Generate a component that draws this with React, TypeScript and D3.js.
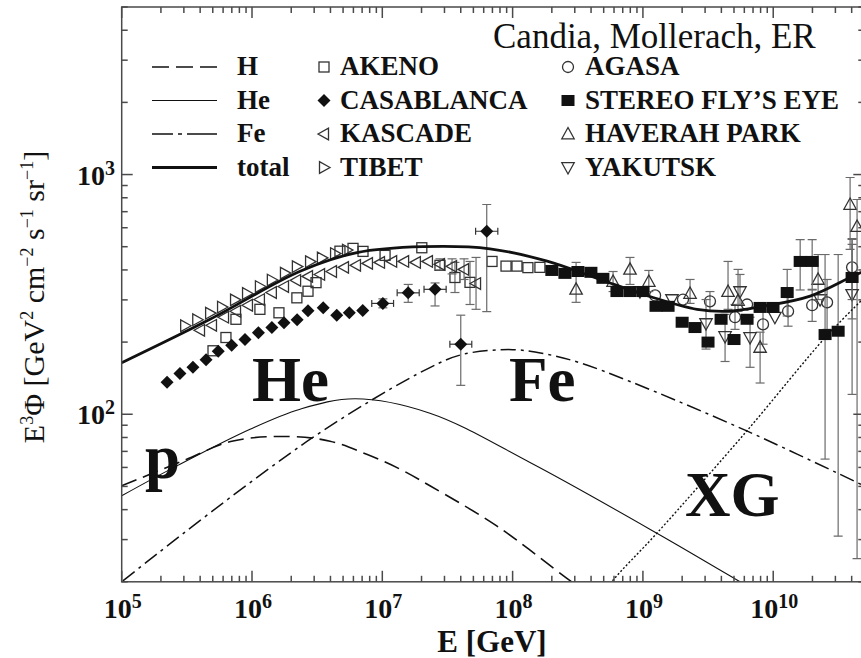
import React from 'react';
import * as d3 from 'd3';

// ---- axes ----
const energyDomain: [number, number] = [1e5, 5e10];
const fluxDomain: [number, number] = [20, 5000];
const xTickExponents = [5, 6, 7, 8, 9, 10];
const yTickExponents = [2, 3];

// ---- model components: [E (GeV), E^3 Phi] ----
const hydrogenCurve: [number, number][] = [
  [1e5, 50.3], [2.95e5, 63.9], [7.16e5, 77.4], [1.95e6, 80.7], [3.97e6, 77.2],
  [7.59e6, 68.1], [1.37e7, 59.0], [2.32e7, 50.3], [7.55e7, 34.2], [2.84e8, 20.0], [6.0e8, 15.0],
];
const heliumCurve: [number, number][] = [
  [1e5, 45.7], [2.65e5, 60.9], [9.66e5, 86.6], [2.34e6, 105], [6.17e6, 116],
  [2.32e7, 101], [1.36e8, 62.9], [1.28e9, 31.9], [5.56e9, 20.0], [1.5e10, 14.5],
];
const ironCurve: [number, number][] = [
  [7e4, 17.0], [1e5, 20.0], [2.93e6, 80.0], [2.32e7, 156.6], [4.19e7, 178], [1.0e8, 186],
  [1.83e8, 178], [3.29e8, 164], [7.96e8, 137], [6.27e9, 85.2], [5.5e10, 49.0],
];
const extragalacticCurve: [number, number][] = [
  [3.5e8, 14.0], [5.75e8, 20.0], [1.28e9, 31.9], [6.27e9, 85.2], [2.57e10, 212], [5.5e10, 322],
];
const totalCurve: [number, number][] = [
  [1e5, 164], [4.76e5, 249], [2.34e6, 395], [6.38e6, 472], [2.05e7, 500], [6.70e7, 490],
  [1.84e8, 435], [4.68e8, 365], [1.13e9, 310], [2.60e9, 274], [4.66e9, 269], [8.35e9, 282],
  [1.92e10, 311], [4.09e10, 377], [5.5e10, 405],
];

// ---- measurements: [E, flux, fluxLow?, fluxHigh?, eLow?, eHigh?] ----
type Pt = [number, number, number?, number?, number?, number?];

const akeno: Pt[] = [
  [5.02e5, 184], [6.31e5, 209], [7.53e5, 249], [1.15e6, 274], [1.61e6, 265], [2.21e6, 306],
  [2.69e6, 326], [3.10e6, 354], [4.73e6, 479], [5.96e6, 492], [7.11e6, 478], [1.05e7, 460],
  [2.01e7, 495], [2.77e7, 418], [3.61e7, 372, 322, 430], [4.71e7, 355, 287, 434],
  [6.95e7, 434], [8.90e7, 415], [1.08e8, 415], [1.31e8, 409], [1.62e8, 410],
];
const casablanca: Pt[] = [
  [2.23e5, 136], [2.80e5, 148], [3.52e5, 157], [4.44e5, 169], [5.51e5, 183], [6.98e5, 194],
  [8.84e5, 205], [1.12e6, 219], [1.42e6, 230], [1.76e6, 241], [2.22e6, 248], [2.69e6, 270],
  [3.52e6, 278], [4.47e6, 259], [5.58e6, 265], [7.08e6, 271],
  [1.01e7, 290, 278, 303, 8.3e6, 1.22e7], [1.58e7, 321, 293, 348, 1.3e7, 1.92e7],
  [2.54e7, 332, 283, 353, 2.09e7, 3.09e7], [4.0e7, 196, 132, 259, 3.3e7, 4.86e7],
  [6.33e7, 580, 268, 750, 5.2e7, 7.7e7],
];
const kascade: Pt[] = [
  [3.99e5, 224], [4.93e5, 235], [6.10e5, 254], [7.54e5, 269], [9.31e5, 285], [1.15e6, 301],
  [1.42e6, 322], [1.76e6, 341], [2.18e6, 362], [2.69e6, 376], [3.33e6, 383], [4.11e6, 394],
  [5.08e6, 410], [6.28e6, 418], [7.76e6, 426], [9.60e6, 430], [1.19e7, 434], [1.47e7, 434],
  [1.81e7, 430], [2.24e7, 434], [2.77e7, 422, 400, 445], [3.43e7, 414, 385, 445],
  [4.24e7, 402, 365, 445], [5.24e7, 351, 274, 451],
];
const tibet: Pt[] = [
  [3.07e5, 234], [3.80e5, 248], [4.77e5, 264], [5.89e5, 280], [7.41e5, 300], [9.16e5, 319],
  [1.15e6, 341], [1.42e6, 363], [1.79e6, 388], [2.21e6, 413], [2.79e6, 433], [3.44e6, 449],
  [4.34e6, 468], [5.36e6, 484],
];
const agasa: Pt[] = [
  [1.24e9, 313], [2.03e9, 301], [3.27e9, 296, 269, 325], [5.09e9, 254, 226, 287], [6.30e9, 287],
  [8.35e9, 237, 196, 287], [1.30e10, 269, 233, 307], [1.99e10, 285, 244, 332],
  [2.59e10, 293, 226, 365], [4.03e10, 410, 301, 511],
];
const stereoFlysEye: Pt[] = [
  [2.00e8, 398], [2.52e8, 387], [3.17e8, 394], [3.99e8, 391], [4.93e8, 369], [6.32e8, 325],
  [7.96e8, 325], [1.00e9, 325], [1.26e9, 282], [1.56e9, 282], [2.00e9, 242], [2.51e9, 230],
  [3.16e9, 200], [3.98e9, 249], [5.00e9, 205], [6.30e9, 249], [7.93e9, 279], [9.96e9, 279],
  [1.28e10, 322, 257, 402], [1.61e10, 434, 330, 535], [1.99e10, 434, 330, 535],
  [2.50e10, 215, 65, 464], [3.15e10, 222, 31, 464], [4.03e10, 372, 250, 540],
];
const haverahPark: Pt[] = [
  [3.07e8, 332, 293, 430], [5.90e8, 358, 325, 394], [7.96e8, 402, 348, 451],
  [1.11e9, 358, 325, 398], [2.30e9, 319, 290, 365], [4.50e9, 325, 274, 434],
  [5.37e9, 298, 269, 402], [7.93e9, 190, 135, 220], [2.21e10, 365, 301, 464],
  [3.89e10, 750, 487, 972], [4.40e10, 607, 25, 787],
];
const yakutsk: Pt[] = [
  [9.49e8, 325], [1.67e9, 301], [3.05e9, 239, 187, 301], [4.27e9, 211, 166, 261],
  [5.56e9, 325, 287, 383], [6.64e9, 209, 157, 254], [1.03e10, 254], [2.29e10, 301],
  [4.03e10, 316, 121, 536],
];

type Sym = 'square' | 'diamond' | 'triLeft' | 'triRight' | 'circle' | 'filledSquare' | 'triUp' | 'triDown';

const datasets: { name: string; data: Pt[]; symbol: Sym }[] = [
  { name: 'AKENO', data: akeno, symbol: 'square' },
  { name: 'KASCADE', data: kascade, symbol: 'triLeft' },
  { name: 'TIBET', data: tibet, symbol: 'triRight' },
  { name: 'CASABLANCA', data: casablanca, symbol: 'diamond' },
  { name: 'AGASA', data: agasa, symbol: 'circle' },
  { name: 'HAVERAH PARK', data: haverahPark, symbol: 'triUp' },
  { name: 'YAKUTSK', data: yakutsk, symbol: 'triDown' },
  { name: 'STEREO FLY\u2019S EYE', data: stereoFlysEye, symbol: 'filledSquare' },
];

const legendModels = [
  { name: 'H', dash: '17,7', width: 1.6 },
  { name: 'He', dash: '', width: 1.1 },
  { name: 'Fe', dash: '21,5,4,5,30,5', width: 1.5 },
  { name: 'total', dash: '', width: 2.8 },
];
const legendCol2: { name: string; symbol: Sym }[] = [
  { name: 'AKENO', symbol: 'square' },
  { name: 'CASABLANCA', symbol: 'diamond' },
  { name: 'KASCADE', symbol: 'triLeft' },
  { name: 'TIBET', symbol: 'triRight' },
];
const legendCol3: { name: string; symbol: Sym }[] = [
  { name: 'AGASA', symbol: 'circle' },
  { name: 'STEREO FLY\u2019S EYE', symbol: 'filledSquare' },
  { name: 'HAVERAH PARK', symbol: 'triUp' },
  { name: 'YAKUTSK', symbol: 'triDown' },
];

const SERIF = '"Liberation Serif", "Times New Roman", Times, serif';
const INK = '#111';
const MARK = '#333';
const ERR = '#6a6a6a';

function Marker({ type, cx, cy }: { type: Sym; cx: number; cy: number }) {
  const sw = 1.3;
  switch (type) {
    case 'square':
      return <rect x={cx - 5} y={cy - 5} width={10} height={10} fill="none" stroke={MARK} strokeWidth={sw} />;
    case 'filledSquare':
      return <rect x={cx - 6.5} y={cy - 5.5} width={13} height={11} fill={INK} />;
    case 'diamond':
      return <path d={`M${cx},${cy - 6.5}L${cx + 6.5},${cy}L${cx},${cy + 6.5}L${cx - 6.5},${cy}Z`} fill={INK} />;
    case 'circle':
      return <circle cx={cx} cy={cy} r={5.5} fill="none" stroke={MARK} strokeWidth={sw} />;
    case 'triUp':
      return <path d={`M${cx},${cy - 6.5}L${cx + 6.2},${cy + 4.8}L${cx - 6.2},${cy + 4.8}Z`} fill="none" stroke={MARK} strokeWidth={sw} />;
    case 'triDown':
      return <path d={`M${cx},${cy + 6.5}L${cx + 6.2},${cy - 4.8}L${cx - 6.2},${cy - 4.8}Z`} fill="none" stroke={MARK} strokeWidth={sw} />;
    case 'triLeft':
      return <path d={`M${cx - 6},${cy}L${cx + 4.5},${cy - 5.8}L${cx + 4.5},${cy + 5.8}Z`} fill="none" stroke={MARK} strokeWidth={sw} />;
    case 'triRight':
      return <path d={`M${cx + 6},${cy}L${cx - 4.5},${cy - 5.8}L${cx - 4.5},${cy + 5.8}Z`} fill="none" stroke={MARK} strokeWidth={sw} />;
  }
  return null;
}

export default function App() {
  const W = 861;
  const H = 658;
  const x = d3.scaleLog().domain(energyDomain).range([121.7, 864.3]);
  const y = d3.scaleLog().domain(fluxDomain).range([581.8, 7]);
  const [x0, x1] = x.range();
  const [yb, yt] = y.range();

  const line = d3
    .line<[number, number]>()
    .x((d) => x(d[0]))
    .y((d) => y(d[1]))
    .curve(d3.curveCatmullRom.alpha(0.5));

  // minor/major ticks
  const xTicks: { v: number; major: boolean }[] = [];
  for (let e = 5; e <= 10; e++) {
    for (let m = 1; m <= 9; m++) {
      const v = m * Math.pow(10, e);
      if (v >= energyDomain[0] && v <= energyDomain[1]) xTicks.push({ v, major: m === 1 });
    }
  }
  const yTicks: { v: number; major: boolean }[] = [];
  for (let e = 1; e <= 3; e++) {
    for (let m = 1; m <= 9; m++) {
      const v = m * Math.pow(10, e);
      if (v >= fluxDomain[0] && v <= fluxDomain[1]) yTicks.push({ v, major: m === 1 });
    }
  }

  const frame = '#4a4a4a';

  return (
    <svg
      width={W}
      height={H}
      viewBox={`0 0 ${W} ${H}`}
      style={{ position: 'absolute', left: 0, top: 0, display: 'block', background: '#fff', fontFamily: SERIF }}
    >
      <defs>
        <clipPath id="plotClip">
          <rect x={x0} y={yt} width={x1 - x0} height={yb - yt} />
        </clipPath>
      </defs>
      <rect x={0} y={0} width={W} height={H} fill="#fff" />

      {/* measurements */}
      <g clipPath="url(#plotClip)">
        {datasets.map((ds) => (
          <g key={ds.name}>
            {ds.data.map((p, i) => {
              const cx = x(p[0]);
              const cy = y(p[1]);
              return (
                <g key={i}>
                  {p[2] !== undefined && p[3] !== undefined && (
                    <g stroke={ERR} strokeWidth={1.2}>
                      <line x1={cx} x2={cx} y1={y(p[2] as number)} y2={y(p[3] as number)} />
                      <line x1={cx - 4.5} x2={cx + 4.5} y1={y(p[2] as number)} y2={y(p[2] as number)} />
                      <line x1={cx - 4.5} x2={cx + 4.5} y1={y(p[3] as number)} y2={y(p[3] as number)} />
                    </g>
                  )}
                  {p[4] !== undefined && p[5] !== undefined && (
                    <g stroke={MARK} strokeWidth={1.2}>
                      <line x1={x(p[4] as number)} x2={x(p[5] as number)} y1={cy} y2={cy} />
                      <line x1={x(p[4] as number)} x2={x(p[4] as number)} y1={cy - 3.5} y2={cy + 3.5} />
                      <line x1={x(p[5] as number)} x2={x(p[5] as number)} y1={cy - 3.5} y2={cy + 3.5} />
                    </g>
                  )}
                  <Marker type={ds.symbol} cx={cx} cy={cy} />
                </g>
              );
            })}
          </g>
        ))}
      </g>

      {/* model curves */}
      <g clipPath="url(#plotClip)" fill="none" stroke={INK}>
        <path d={line(hydrogenCurve) || ''} strokeWidth={1.6} strokeDasharray="16,7" />
        <path d={line(heliumCurve) || ''} strokeWidth={1.1} />
        <path d={line(ironCurve) || ''} strokeWidth={1.5} strokeDasharray="15,5,3,5" />
        <path d={line(extragalacticCurve) || ''} strokeWidth={1.4} strokeDasharray="2,2" />
        <path d={line(totalCurve) || ''} strokeWidth={2.8} />
      </g>

      {/* frame and ticks */}
      <g stroke={frame} strokeWidth={1.5}>
        <rect x={x0} y={yt} width={x1 - x0} height={yb - yt} fill="none" />
        {xTicks.map((t, i) => {
          const px = x(t.v);
          const len = t.major ? 11 : 6;
          return (
            <g key={'xt' + i}>
              <line x1={px} x2={px} y1={yb} y2={yb - len} />
              <line x1={px} x2={px} y1={yt} y2={yt + len} />
            </g>
          );
        })}
        {yTicks.map((t, i) => {
          const py = y(t.v);
          const len = t.major ? 11 : 6;
          return (
            <g key={'yt' + i}>
              <line x1={x0} x2={x0 + len} y1={py} y2={py} />
              <line x1={x1} x2={x1 - len} y1={py} y2={py} />
            </g>
          );
        })}
      </g>

      {/* tick labels */}
      <g fill={INK} fontWeight="bold" fontSize={28}>
        {xTickExponents.map((e) => (
          <text key={'xl' + e} x={x(Math.pow(10, e)) + 1} y={618} textAnchor="middle">
            10<tspan fontSize={20} dy={-10}>{e}</tspan>
          </text>
        ))}
        {yTickExponents.map((e) => (
          <text key={'yl' + e} x={115} y={y(Math.pow(10, e)) + 10} textAnchor="end">
            10<tspan fontSize={20} dy={-10}>{e}</tspan>
          </text>
        ))}
      </g>

      {/* axis titles */}
      <text x={492} y={652} textAnchor="middle" fontWeight="bold" fontSize={31} fill={INK}>
        E [GeV]
      </text>
      <text transform="translate(44,297) rotate(-90)" textAnchor="middle" fontSize={30} fill={INK}>
        E<tspan fontSize={18} dy={-11}>3</tspan>
        <tspan dy={11}>{'\u03A6 [GeV'}</tspan>
        <tspan fontSize={18} dy={-11}>2</tspan>
        <tspan dy={11}> cm</tspan>
        <tspan fontSize={18} dy={-11}>{'\u22122'}</tspan>
        <tspan dy={11}> s</tspan>
        <tspan fontSize={18} dy={-11}>{'\u22121'}</tspan>
        <tspan dy={11}> sr</tspan>
        <tspan fontSize={18} dy={-11}>{'\u22121'}</tspan>
        <tspan dy={11}>]</tspan>
      </text>

      {/* component labels */}
      <g fontWeight="bold" fontSize={63} fill={INK}>
        <text x={145} y={478}>p</text>
        <text x={252} y={401}>He</text>
        <text x={509} y={401}>Fe</text>
        <text x={685} y={516}>XG</text>
      </g>

      {/* credit */}
      <text x={493} y={48} fontSize={35} fill={INK}>
        Candia, Mollerach, ER
      </text>

      {/* legend */}
      <g fontWeight="bold" fontSize={27} fill={INK}>
        {legendModels.map((m, i) => {
          const cy = 67 + i * 33.5;
          return (
            <g key={m.name}>
              <line x1={152} x2={217} y1={cy} y2={cy} stroke={INK} strokeWidth={m.width} strokeDasharray={m.dash || undefined} />
              <text x={237} y={cy + 8}>{m.name}</text>
            </g>
          );
        })}
        {legendCol2.map((m, i) => {
          const cy = 67 + i * 33.5;
          return (
            <g key={m.name}>
              <Marker type={m.symbol} cx={324} cy={cy} />
              <text x={340} y={cy + 8}>{m.name}</text>
            </g>
          );
        })}
        {legendCol3.map((m, i) => {
          const cy = 67 + i * 33.5;
          return (
            <g key={m.name}>
              <Marker type={m.symbol} cx={568} cy={cy} />
              <text x={585} y={cy + 8}>{m.name}</text>
            </g>
          );
        })}
      </g>
    </svg>
  );
}
